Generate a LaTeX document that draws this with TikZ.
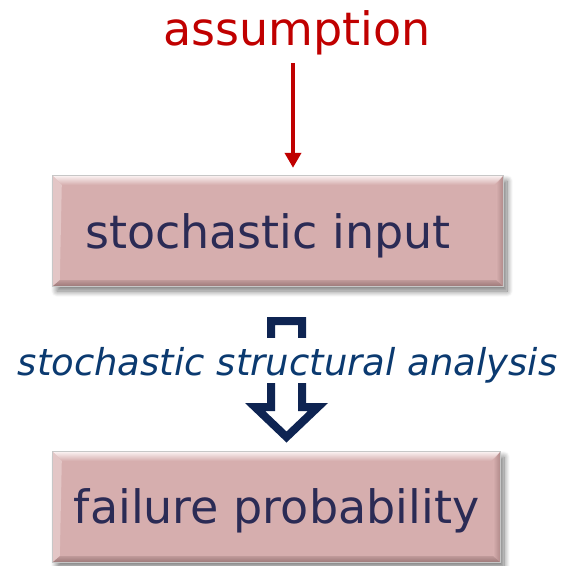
\documentclass[tikz,border=0pt]{standalone}
\usepackage{fontspec}
\setmainfont{DejaVu Sans}
\usetikzlibrary{arrows.meta,shadows.blur,calc}
\definecolor{boxfill}{HTML}{D6AEAE}
\definecolor{bevtopc}{HTML}{FAF0F0}
\definecolor{bevleftc}{HTML}{E3C6C6}
\definecolor{bevrightc}{HTML}{B08A8A}
\definecolor{bevbotc}{HTML}{9C7878}
\definecolor{boxtext}{HTML}{2B2B55}
\definecolor{assred}{HTML}{C00000}
\definecolor{navy}{HTML}{0E2452}
\definecolor{italblue}{HTML}{0B3A70}
\tikzset{
  box/.style={rectangle, draw=none, fill=boxfill, inner sep=0pt,
    minimum height=110pt,
    blur shadow={shadow xshift=4pt, shadow yshift=-5pt, shadow blur steps=12,
      shadow blur radius=6pt, shadow opacity=55}},
  boxlabel/.style={anchor=base, inner sep=0pt, text=boxtext,
    font=\fontsize{46}{50}\selectfont},
  redarrow/.style={draw=assred, line width=4pt,
    -{Triangle[width=16pt,length=15pt]}},
  blockarrow/.style={draw=navy, line width=8pt, fill=white, line join=miter},
}
\newcommand\bevelbox[1]{%
  \shade[top color=bevtopc, bottom color=boxfill]
    (#1.north west) -- (#1.north east) -- ($(#1.north east)+(-9,9)$)
    -- ($(#1.north west)+(9,9)$) -- cycle;
  \fill[bevleftc]
    (#1.north west) -- ($(#1.north west)+(9,9)$) -- ($(#1.south west)+(7,-6)$)
    -- (#1.south west) -- cycle;
  \shade[left color=boxfill, right color=bevrightc]
    (#1.north east) -- ($(#1.north east)+(-7,9)$) -- ($(#1.south east)+(-7,-6)$)
    -- (#1.south east) -- cycle;
  \shade[top color=boxfill!60!bevbotc, bottom color=bevbotc]
    (#1.south west) -- ($(#1.south west)+(7,-6)$) -- ($(#1.south east)+(-7,-6)$)
    -- (#1.south east) -- cycle;
  \draw[line width=0.8pt, black!22] (#1.south west) rectangle (#1.north east);
}
\begin{document}
\begin{tikzpicture}[x=1pt, y=-1pt]
  \useasboundingbox (0,0) rectangle (567,565);

  % boxes
  \node[box, minimum width=450pt] (box1) at (278,231) {};
  \bevelbox{box1}
  \node[boxlabel] (t1) at (268,248) {stochastic input};

  \node[box, minimum width=447pt] (box2) at (276.5,507) {};
  \bevelbox{box2}
  \node[boxlabel] (t2) at (276.5,523) {failure probability};

  % assumption
  \node[anchor=base, inner sep=0pt, text=assred,
    font=\fontsize{46}{50}\selectfont] (assump) at (297,45) {assumption};
  \coordinate (a0) at (293,63);
  \draw[redarrow, shorten >=8pt] (a0) -- (a0 |- box1.north);

  % block arrow
  \draw[blockarrow] (271,321) -- (302,321) -- (302,407) -- (318,407)
    -- (286.5,437) -- (255,407) -- (271,407) -- cycle;

  % analysis label
  \node[anchor=base, inner sep=0pt, fill=white, text=italblue,
    text height=37pt, text depth=8pt,
    font=\fontsize{37}{42}\selectfont\itshape] (ana) at (287.5,375)
    {stochastic structural analysis};
\end{tikzpicture}
\end{document}
